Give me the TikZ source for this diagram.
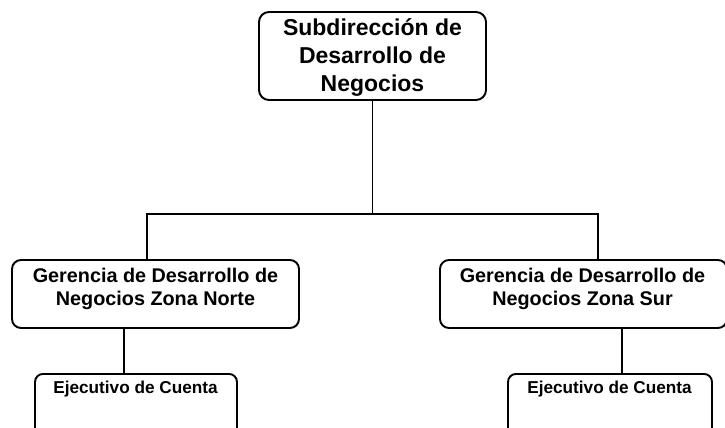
\documentclass[tikz,border=0pt]{standalone}
\usepackage{fontspec}
\setmainfont{Liberation Sans}
\begin{document}
\begin{tikzpicture}[x=1pt,y=-1pt]
\tikzset{
  boxline/.style={draw=black, line width=1.9pt, rounded corners=9pt, fill=white, inner sep=0pt},
  conn/.style={draw=black, line width=1.7pt},
  toptext/.style={font=\fontsize{23}{28}\selectfont\bfseries, align=center},
  midtext/.style={font=\fontsize{19.8}{22.5}\selectfont\bfseries, align=center},
  lowtext/.style={font=\fontsize{17.2}{20}\selectfont\bfseries, align=center}
}
\useasboundingbox (0,0) rectangle (725,428);
\clip (0,0) rectangle (725,428);
\fill[white] (0,0) rectangle (725,428);

% connector reference coordinates
\coordinate (bl) at (147,214);
\coordinate (br) at (598,214);
\coordinate (cl) at (124,0);
\coordinate (cr) at (622,0);

% boxes
\node[boxline, minimum width=227pt, minimum height=88pt, rounded corners=10pt] (top) at (372.5,56) {};
\node[toptext] (toptxt) at (372.5,58) {Subdirección de\\Desarrollo de\\Negocios};

\node[boxline, minimum width=287pt, minimum height=68pt] (lm) at (155.5,294) {};
\node[midtext] (lmtxt) at (155.5,289) {Gerencia de Desarrollo de\\Negocios Zona Norte};

\node[boxline, minimum width=287pt, minimum height=68pt] (rm) at (583.5,294) {};
\node[midtext] (rmtxt) at (582.5,289) {Gerencia de Desarrollo de\\Negocios Zona Sur};

\node[boxline, minimum width=202pt, minimum height=80pt, anchor=north, rounded corners=8pt] (e1) at (136,373) {};
\node[lowtext] (e1txt) at (135.5,389) {Ejecutivo de Cuenta};

\node[boxline, minimum width=204pt, minimum height=80pt, anchor=north, rounded corners=8pt] (e2) at (610,373) {};
\node[lowtext] (e2txt) at (609.5,389) {Ejecutivo de Cuenta};

% connectors
\draw[conn] (top.south) -- (top.south |- bl);
\draw[conn] (lm.north -| bl) -- (bl) -- (br) -- (rm.north -| br);
\draw[conn] (lm.south -| cl) -- (e1.north -| cl);
\draw[conn] (rm.south -| cr) -- (e2.north -| cr);
\end{tikzpicture}
\end{document}
